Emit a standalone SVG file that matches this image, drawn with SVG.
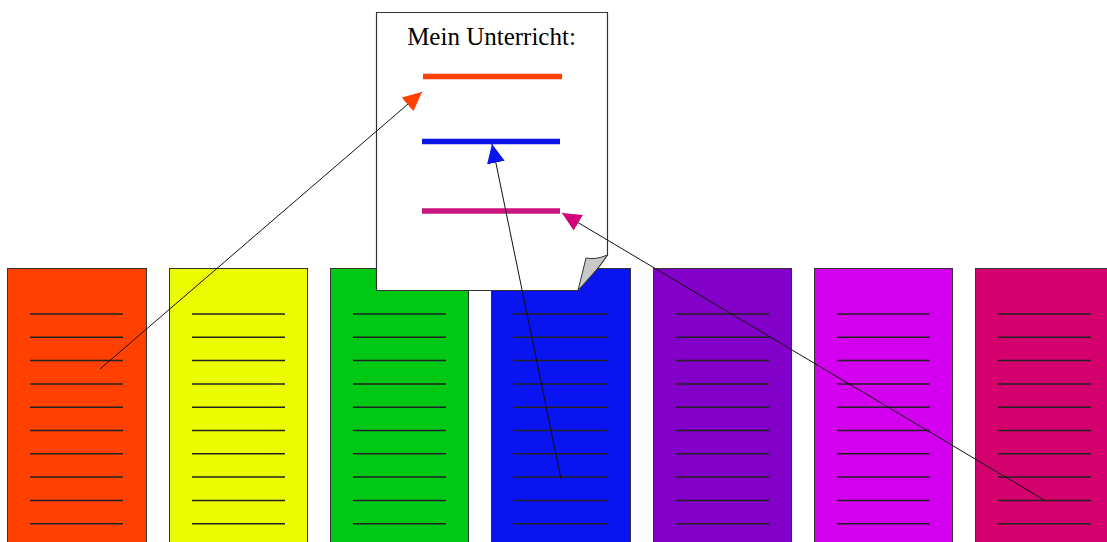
<svg xmlns="http://www.w3.org/2000/svg" xmlns:xlink="http://www.w3.org/1999/xlink" width="1107" height="542" viewBox="0 0 1107 542">
<style>
.col{stroke:#333;stroke-width:1}
.rl{stroke:#222;stroke-width:1.5}
.page{fill:#fff;stroke:#333;stroke-width:1.2}
.curl{fill:#c8c8c8;stroke:#333;stroke-width:1}
.bar{stroke-width:5.5}
.conn{stroke:#111;stroke-width:1;fill:none}
.title{font-family:"Liberation Serif","Times New Roman",serif;font-size:25px;fill:#000}
</style>
<defs>
<g id="rules">
<line class="rl" x1="23" y1="314" x2="116" y2="314"/>
<line class="rl" x1="23" y1="337.3" x2="116" y2="337.3"/>
<line class="rl" x1="23" y1="360.6" x2="116" y2="360.6"/>
<line class="rl" x1="23" y1="383.9" x2="116" y2="383.9"/>
<line class="rl" x1="23" y1="407.2" x2="116" y2="407.2"/>
<line class="rl" x1="23" y1="430.5" x2="116" y2="430.5"/>
<line class="rl" x1="23" y1="453.8" x2="116" y2="453.8"/>
<line class="rl" x1="23" y1="477.1" x2="116" y2="477.1"/>
<line class="rl" x1="23" y1="500.4" x2="116" y2="500.4"/>
<line class="rl" x1="23" y1="523.7" x2="116" y2="523.7"/>
</g>
<marker id="aRed" markerUnits="userSpaceOnUse" markerWidth="20" markerHeight="20" refX="19" refY="9" orient="auto" viewBox="0 0 20 18"><path d="M0,0 L19,9 L0,18 Z" fill="#ff4000"/></marker>
<marker id="aBlue" markerUnits="userSpaceOnUse" markerWidth="20" markerHeight="20" refX="19" refY="9" orient="auto" viewBox="0 0 20 18"><path d="M0,0 L19,9 L0,18 Z" fill="#0a14f0"/></marker>
<marker id="aMag" markerUnits="userSpaceOnUse" markerWidth="20" markerHeight="20" refX="19" refY="9" orient="auto" viewBox="0 0 20 18"><path d="M0,0 L19,9 L0,18 Z" fill="#d20078"/></marker>
</defs>
<rect width="1107" height="542" fill="#fff"/>
<g id="col1"><rect class="col" x="7.5" y="268.5" width="139" height="280" fill="#ff4000"/><use xlink:href="#rules" x="7"/></g>
<g id="col2"><rect class="col" x="169.5" y="268.5" width="138" height="280" fill="#ecfc00"/><use xlink:href="#rules" x="169"/></g>
<g id="col3"><rect class="col" x="330.5" y="268.5" width="138" height="280" fill="#00c814"/><use xlink:href="#rules" x="330"/></g>
<g id="col4"><rect class="col" x="491.5" y="268.5" width="139" height="280" fill="#0a14f0"/><use xlink:href="#rules" x="491"/></g>
<g id="col5"><rect class="col" x="653.5" y="268.5" width="138" height="280" fill="#8200c8"/><use xlink:href="#rules" x="653"/></g>
<g id="col6"><rect class="col" x="814.5" y="268.5" width="138" height="280" fill="#d200ee"/><use xlink:href="#rules" x="814"/></g>
<g id="col7"><rect class="col" x="975.5" y="268.5" width="140" height="280" fill="#d4006e"/><use xlink:href="#rules" x="975"/></g>
<g id="page">
<path class="page" d="M376.5,12.5 H607.5 V255 L598,268 L578,290.5 H376.5 Z"/>
<path class="curl" d="M578,290.5 L586,258 Q596,260 607.5,255 L598,268 Z"/>
<text class="title" x="491.5" y="45" text-anchor="middle">Mein Unterricht:</text>
<line class="bar" x1="423" y1="76.5" x2="562" y2="76.5" stroke="#ff4000"/>
<line class="bar" x1="422" y1="141.5" x2="560" y2="141.5" stroke="#0a14e6"/>
<line class="bar" x1="422" y1="211" x2="560" y2="211" stroke="#c8147d"/>
</g>
<g id="connectors">
<line class="conn" x1="100" y1="369" x2="422" y2="92" marker-end="url(#aRed)"/>
<line class="conn" x1="561" y1="479" x2="492" y2="144" marker-end="url(#aBlue)"/>
<line class="conn" x1="1044" y1="500" x2="562" y2="213" marker-end="url(#aMag)"/>
</g>
</svg>
